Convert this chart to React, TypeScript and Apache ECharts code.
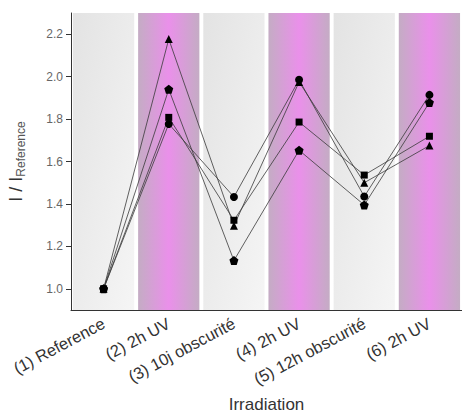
import React, { useEffect, useRef } from "react";
import * as echarts from "echarts";

const categories = [
  "(1) Reference",
  "(2) 2h UV",
  "(3) 10j obscurité",
  "(4) 2h UV",
  "(5) 12h obscurité",
  "(6) 2h UV",
];
const triangleSeries = [1.0, 2.177, 1.297, 1.975, 1.5, 1.675];
const pentagonSeries = [1.0, 1.94, 1.133, 1.653, 1.395, 1.878];
const squareSeries = [1.0, 1.808, 1.323, 1.786, 1.536, 1.719];
const circleSeries = [1.0, 1.777, 1.433, 1.985, 1.435, 1.914];
const panelKinds = ["dark", "uv", "dark", "uv", "dark", "uv"];
const yTicks = [1.0, 1.2, 1.4, 1.6, 1.8, 2.0, 2.2];
const yMin = 0.9;
const yMax = 2.3;

const PENTAGON =
  "path://M0,-1 L0.951,-0.309 L0.588,0.809 L-0.588,0.809 L-0.951,-0.309Z";

const FONT = "Liberation Sans";

export default function App() {
  const ref = useRef<HTMLDivElement>(null);
  useEffect(() => {
    if (!ref.current) return;
    const chart = echarts.init(ref.current, null, { renderer: "svg" });
    const greyGrad = new echarts.graphic.LinearGradient(0, 0, 1, 1, [
      { offset: 0, color: "#e3e3e3" },
      { offset: 1, color: "#f5f5f5" },
    ]);
    const uvGrad = new echarts.graphic.LinearGradient(0, 0, 1, 0, [
      { offset: 0, color: "#c4acc4" },
      { offset: 0.5, color: "#ea90ea" },
      { offset: 1, color: "#c4acc4" },
    ]);
    const lineSeries = (data: number[], symbol: string, size: number) => ({
      type: "line",
      data,
      symbol,
      symbolSize: size,
      z: 3,
      lineStyle: { color: "#3a3a3a", width: 0.8 },
      itemStyle: { color: "#000" },
    });
    chart.setOption({
      animation: false,
      backgroundColor: "#ffffff",
      grid: {
        left: 71,
        right: 0,
        top: 13,
        bottom: 106,
        containLabel: false,
        outerBoundsMode: "none",
      },
      xAxis: {
        type: "category",
        data: categories,
        boundaryGap: true,
        name: "Irradiation",
        nameLocation: "middle",
        nameGap: 86,
        nameTextStyle: { fontFamily: FONT, fontSize: 17, color: "#333" },
        axisLine: { lineStyle: { color: "#333", width: 1 } },
        axisTick: { alignWithLabel: true, length: 5, lineStyle: { color: "#333" } },
        axisLabel: {
          rotate: 28,
          margin: 12,
          fontFamily: FONT,
          fontSize: 16.5,
          color: "#333",
          interval: 0,
        },
        splitLine: { show: false },
      },
      yAxis: {
        type: "value",
        min: yMin,
        max: yMax,
        name: "{a|I / I}{b|Reference}",
        nameLocation: "middle",
        nameRotate: 90,
        nameGap: 44,
        nameTextStyle: {
          rich: {
            a: { fontFamily: FONT, fontSize: 18, color: "#333" },
            b: {
              fontFamily: FONT,
              fontSize: 12,
              color: "#555",
              verticalAlign: "bottom",
              padding: [10, 0, 0, 0],
            },
          },
        },
        axisLine: { show: true, lineStyle: { color: "#333", width: 1 } },
        axisTick: {
          show: true,
          length: 5,
          lineStyle: { color: "#333" },
          customValues: yTicks,
        },
        axisLabel: {
          fontFamily: FONT,
          fontSize: 12,
          color: "#666",
          margin: 8,
          customValues: yTicks,
          formatter: (v: number) => v.toFixed(1),
        },
        splitLine: { show: false },
      },
      series: [
        {
          type: "bar",
          barWidth: "94%",
          z: 1,
          silent: true,
          data: panelKinds.map((k) => ({
            value: yMax,
            itemStyle: { color: k === "uv" ? uvGrad : greyGrad },
          })),
        },
        lineSeries(circleSeries, "circle", 8),
        lineSeries(squareSeries, "rect", 7),
        lineSeries(pentagonSeries, PENTAGON, 9),
        lineSeries(triangleSeries, "triangle", 8),
      ],
    });
    return () => chart.dispose();
  }, []);
  return (
    <div
      ref={ref}
      style={{ position: "fixed", left: 0, top: 0, width: 462, height: 416 }}
    />
  );
}
